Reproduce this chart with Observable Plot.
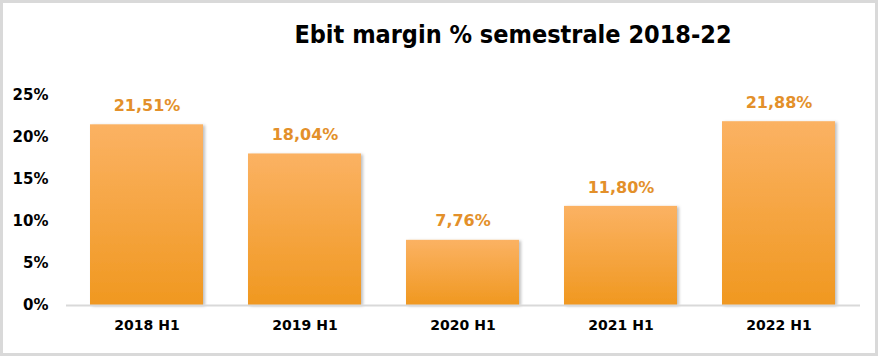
<!DOCTYPE html>
<html><head><meta charset="utf-8">
<script src="https://cdn.jsdelivr.net/npm/d3@7"></script>
<script src="https://cdn.jsdelivr.net/npm/@observablehq/plot@0.6"></script>
<style>
html,body{margin:0;padding:0;background:#fff;}
#wrap{position:relative;width:883px;height:360px;overflow:hidden;}
#border{position:absolute;left:0;top:0;width:878px;height:356px;box-sizing:border-box;border:3px solid #d9d9d9;pointer-events:none;}
#title{position:absolute;left:0;width:1026px;top:20px;text-align:center;font-family:"DejaVu Sans Condensed","DejaVu Sans",sans-serif;font-weight:bold;font-size:25px;color:#000;}
#chart{position:absolute;left:0;top:0;}
</style></head>
<body>
<div id="wrap"><div id="chart"></div><div id="title">Ebit margin % semestrale 2018-22</div><div id="border"></div></div>
<script>
const categories = ["2018 H1","2019 H1","2020 H1","2021 H1","2022 H1"];
const values = [21.51, 18.04, 7.76, 11.80, 21.88];
const yTicks = [0,5,10,15,20,25];
const data = categories.map((c,i)=>({cat:c, v:values[i]}));
const fmt = v => v.toFixed(2).replace(".", ",") + "%";

const chart = Plot.plot({
  width: 883, height: 360,
  marginLeft: 66, marginRight: 23, marginTop: 95, marginBottom: 55,
  style: {fontFamily: "DejaVu Sans, sans-serif", background: "transparent", overflow: "visible"},
  x: {domain: categories, paddingInner: 0.283, paddingOuter: 0.1415, label: null},
  y: {domain: [0,25], label: null},
  marks: [
    Plot.axisY({ticks: yTicks, tickFormat: d => d + "%", tickSize: 0, tickPadding: 18, fontSize: 15, fontWeight: "bold", fill: "#000"}),
    Plot.axisX({tickSize: 0, tickPadding: 15, fontSize: 14, fontWeight: "bold", fill: "#000"}),
    Plot.barY(data, {x: "cat", y: "v", fill: "url(#barGrad)"}),
    Plot.ruleY([0], {stroke: "#d9d9d9", strokeWidth: 2}),
    Plot.text(data, {x: "cat", y: "v", text: d => fmt(d.v), dy: -19, fontSize: 16, fontWeight: "bold", fill: "#e3902a"})
  ]
});
const ns = "http://www.w3.org/2000/svg";
const defs = document.createElementNS(ns, "defs");
defs.innerHTML = `<linearGradient id="barGrad" x1="0" y1="0" x2="0" y2="1">
<stop offset="0" stop-color="#fbb263"/><stop offset="1" stop-color="#f09820"/></linearGradient>
<filter id="shadow" x="-10%" y="-10%" width="130%" height="130%"><feDropShadow dx="2" dy="1" stdDeviation="1.5" flood-color="#000" flood-opacity="0.25"/></filter>`;
chart.insertBefore(defs, chart.firstChild);
chart.querySelectorAll("rect").forEach(r => r.setAttribute("filter","url(#shadow)"));
document.getElementById("chart").appendChild(chart);
</script>
</body></html>
